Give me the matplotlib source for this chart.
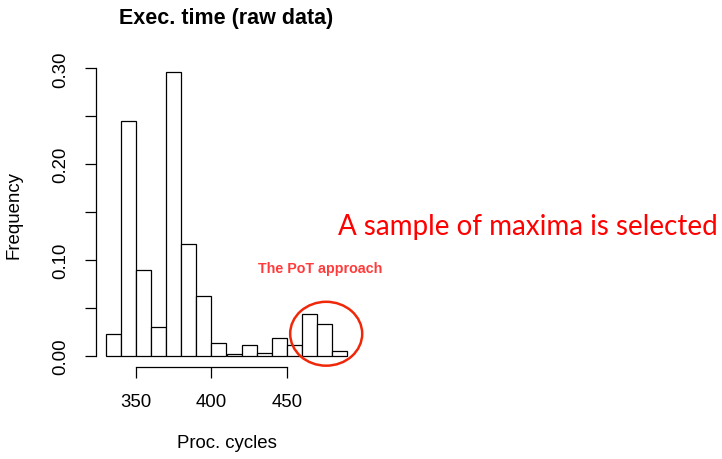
import numpy as np
import matplotlib
matplotlib.use('Agg')
import matplotlib.pyplot as plt
from matplotlib.patches import Ellipse

# histogram of execution times (relative frequencies, bins of 10 cycles)
bin_edges = [330, 340, 350, 360, 370, 380, 390, 400, 410, 420, 430, 440, 450, 460, 470, 480, 490]
freq = [0.0226, 0.2454, 0.0893, 0.0295, 0.2958, 0.1164, 0.0619, 0.0136,
        0.0017, 0.0115, 0.0031, 0.0184, 0.0108, 0.0438, 0.0334, 0.0052]
x_ticks = [350, 400, 450]
y_ticks = [0.0, 0.05, 0.10, 0.15, 0.20, 0.25, 0.30]
y_ticklabels = ['0.00', '', '0.10', '', '0.20', '', '0.30']

plt.rcParams['font.family'] = ['Liberation Sans', 'DejaVu Sans']

fig = plt.figure(figsize=(7.22, 4.60), dpi=100)
ax = fig.add_axes([96/722, 1-368/460, 261/722, 306/460])

lefts = np.array(bin_edges[:-1])
widths = np.diff(bin_edges)
ax.bar(lefts, freq, width=widths, align='edge', color='white', edgecolor='black', lw=0.9)

# R style limits (4% padding) and detached axes
xr = bin_edges[-1] - bin_edges[0]
ax.set_xlim(bin_edges[0] - 0.04*xr, bin_edges[-1] + 0.04*xr)
ymax = max(freq)
ax.set_ylim(-0.04*ymax, 1.04*ymax)

for s in ['top', 'right']:
    ax.spines[s].set_visible(False)
ax.spines['bottom'].set_bounds(x_ticks[0], x_ticks[-1])
ax.spines['left'].set_bounds(y_ticks[0], y_ticks[-1])
ax.spines['bottom'].set_linewidth(0.9)
ax.spines['left'].set_linewidth(0.9)

ax.set_xticks(x_ticks)
ax.set_yticks(y_ticks)
ax.set_yticklabels(y_ticklabels, rotation=90, va='center')
ax.tick_params(axis='both', length=8, width=0.9, labelsize=13.4)
ax.tick_params(axis='x', pad=11)
ax.tick_params(axis='y', pad=11)

ax.set_title('Exec. time (raw data)', fontsize=15.5, fontweight='bold', pad=27)
ax.set_xlabel('Proc. cycles', fontsize=13.4, labelpad=17)
ax.set_ylabel('Frequency', fontsize=13.4, labelpad=22)

# circle around the tail
ax.add_patch(Ellipse((476, 0.0229), 47.7, 0.0667, fill=False,
                     edgecolor='#f0280a', lw=1.8, clip_on=False))

fig.text(528/722, 1-227/460, 'A sample of maxima is selected', color='#ff0000',
         fontsize=20, family=['Lato', 'DejaVu Sans'], ha='center', va='center')
fig.text(320/722, 1-269/460, 'The PoT approach', color='#ff3b3b',
         fontsize=10.3, fontweight='bold', ha='center', va='center')

fig.savefig('out.png', dpi=100)
